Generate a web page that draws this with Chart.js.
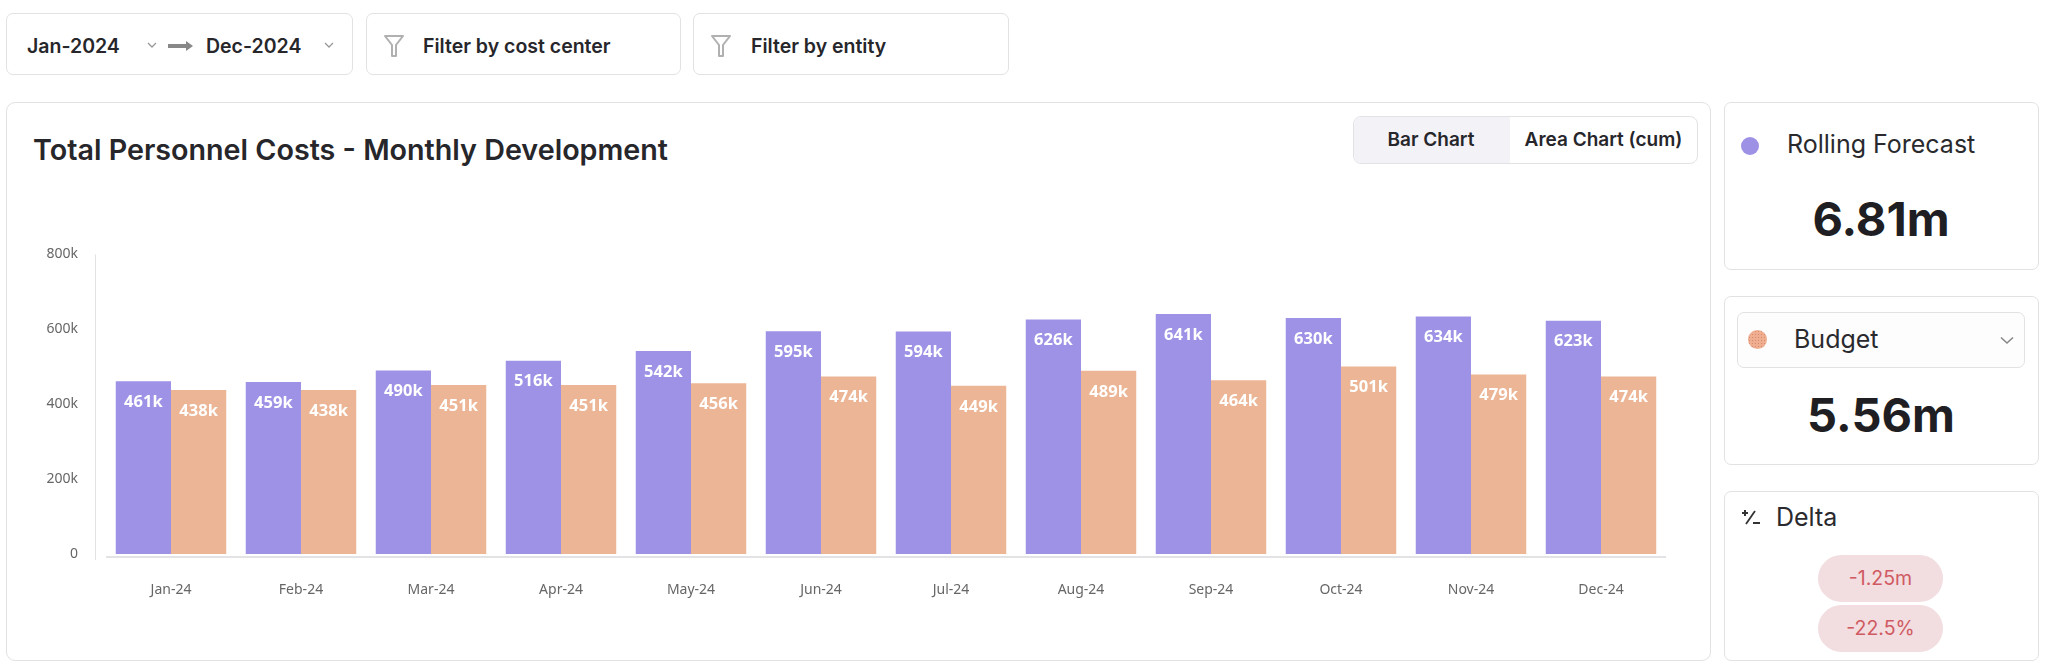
<!DOCTYPE html>
<html>
<head>
<meta charset="utf-8">
<script src="https://cdn.jsdelivr.net/npm/chart.js@4.4.1/dist/chart.umd.min.js"></script>
<style>
  body { margin: 0; background: #fff; font-family: Inter, "Noto Sans", sans-serif; color: #222; }
  .box { position: absolute; border: 1px solid #e2e2e4; border-radius: 7px; background: #fff; box-sizing: border-box; }
  .lbl { position: absolute; white-space: nowrap; }
  .filter { font-size: 19.5px; font-weight: 600; color: #26262b; }
  .big { font-size: 47px; font-weight: 700; color: #1f1f23; transform: translateX(-50%); }
  .side { font-size: 25px; color: #2a2a2e; }
  .pill { position: absolute; width: 125px; height: 47px; border-radius: 24px; background: #f2dde0;
          color: #d05a62; font-size: 19.5px; line-height: 47px; text-align: center; }
</style>
</head>
<body>
<!-- filter bar -->
<div class="box" style="left:6px;top:13px;width:347px;height:62px;"></div>
<div class="lbl filter" style="left:27px;top:34px;">Jan-2024</div>
<svg class="lbl" style="left:147px;top:41px;" width="10" height="8"><path d="M1 2 L5 6 L9 2" stroke="#999" stroke-width="1.3" fill="none"/></svg>
<svg class="lbl" style="left:167px;top:39px;" width="28" height="14"><path d="M1 7 H20" stroke="#888" stroke-width="4"/><path d="M19 2 L26 7 L19 12 Z" fill="#888"/></svg>
<div class="lbl filter" style="left:206px;top:34px;">Dec-2024</div>
<svg class="lbl" style="left:324px;top:41px;" width="10" height="8"><path d="M1 2 L5 6 L9 2" stroke="#999" stroke-width="1.3" fill="none"/></svg>

<div class="box" style="left:366px;top:13px;width:315px;height:62px;"></div>
<svg class="lbl" style="left:383px;top:34px;" width="22" height="24"><path d="M2 2 H20 L13 11 V22 H9 V11 Z" fill="none" stroke="#b0b0b0" stroke-width="2" stroke-linejoin="round"/></svg>
<div class="lbl filter" style="left:423px;top:34px;">Filter by cost center</div>

<div class="box" style="left:693px;top:13px;width:316px;height:62px;"></div>
<svg class="lbl" style="left:710px;top:34px;" width="22" height="24"><path d="M2 2 H20 L13 11 V22 H9 V11 Z" fill="none" stroke="#b0b0b0" stroke-width="2" stroke-linejoin="round"/></svg>
<div class="lbl filter" style="left:751px;top:34px;">Filter by entity</div>

<!-- chart card -->
<div class="box" style="left:6px;top:102px;width:1705px;height:559px;border-radius:9px;"></div>
<div class="lbl" style="left:33px;top:132px;font-size:28.7px;font-weight:600;color:#26262b;">Total Personnel Costs - Monthly Development</div>
<div class="box" style="left:1353px;top:116px;width:345px;height:48px;border-radius:8px;overflow:hidden;">
  <div style="position:absolute;left:0;top:0;width:156px;height:48px;background:#f3f2f7;"></div>
</div>
<div class="lbl" style="left:1353px;top:128px;width:156px;text-align:center;font-size:19px;font-weight:600;color:#26262b;">Bar Chart</div>
<div class="lbl" style="left:1509px;top:128px;width:189px;text-align:center;font-size:19px;font-weight:600;color:#26262b;">Area Chart (cum)</div>

<div style="position:absolute;left:20px;top:218px;width:1680px;height:392px;">
  <canvas id="costChart"></canvas>
</div>

<!-- side cards -->
<div class="box" style="left:1724px;top:102px;width:315px;height:168px;"></div>
<div class="lbl" style="left:1741px;top:137px;width:18px;height:18px;border-radius:50%;background:#9d91e6;"></div>
<div class="lbl side" style="left:1787px;top:129px;">Rolling Forecast</div>
<div class="lbl big" style="left:1881px;top:190px;">6.81m</div>

<div class="box" style="left:1724px;top:296px;width:315px;height:169px;"></div>
<div class="box" style="left:1737px;top:312px;width:288px;height:56px;border-radius:7px;background:#fdfdfd;"></div>
<div class="lbl" style="left:1748px;top:330px;width:19px;height:19px;border-radius:50%;background:#eeae8f radial-gradient(#d88a6e 0.8px, transparent 1px) 0 0/3px 3px;"></div>
<div class="lbl side" style="left:1794px;top:324px;">Budget</div>
<svg class="lbl" style="left:2000px;top:336px;" width="14" height="9"><path d="M1 1.5 L7 7 L13 1.5" stroke="#888" stroke-width="1.6" fill="none"/></svg>
<div class="lbl big" style="left:1881px;top:386px;">5.56m</div>

<div class="box" style="left:1724px;top:491px;width:315px;height:170px;"></div>
<svg class="lbl" style="left:1740px;top:508px;" width="22" height="20"><path d="M2 5 H8 M5 2 V8" stroke="#333" stroke-width="2"/><path d="M15 3 L6 16" stroke="#333" stroke-width="1.8"/><path d="M13 15 H20" stroke="#333" stroke-width="2"/></svg>
<div class="lbl side" style="left:1776px;top:502px;">Delta</div>
<div class="pill" style="left:1818px;top:555px;">-1.25m</div>
<div class="pill" style="left:1818px;top:605px;">-22.5%</div>

<script>
// monthly personnel costs (in k)
const months = ['Jan-24', 'Feb-24', 'Mar-24', 'Apr-24', 'May-24', 'Jun-24', 'Jul-24', 'Aug-24', 'Sep-24', 'Oct-24', 'Nov-24', 'Dec-24'];
const rollingForecast = [461, 459, 490, 516, 542, 595, 594, 626, 641, 630, 634, 623];
const budget = [438, 438, 451, 451, 456, 474, 449, 489, 464, 501, 479, 474];
const yTicks = [0, 200, 400, 600, 800];

// white value labels at the top inside each bar
const barLabels = {
    id: 'barLabels',
    afterDatasetsDraw(chart) {
        const c = chart.ctx;
        c.save();
        c.fillStyle = '#fff';
        c.font = '700 16.5px "Noto Sans"';
        c.textAlign = 'center';
        c.textBaseline = 'middle';
        chart.data.datasets.forEach((ds, i) => {
            chart.getDatasetMeta(i).data.forEach((bar, j) => {
                c.fillText(ds.data[j] + 'k', bar.x, bar.y + 21);
            });
        });
        c.restore();
    }
};

// axis lines: y line sits a bit left of the plot, x line under the bars
const axisLines = {
    id: 'axisLines',
    afterDraw(chart) {
        const a = chart.chartArea;
        const c = chart.ctx;
        c.save();
        c.strokeStyle = '#e3e3e6';
        c.lineWidth = 1;
        c.beginPath();
        c.moveTo(a.left - 10.5, a.top);
        c.lineTo(a.left - 10.5, a.bottom + 6);
        c.stroke();
        c.lineWidth = 2;
        c.beginPath();
        c.moveTo(a.left, a.bottom + 3);
        c.lineTo(a.right, a.bottom + 3);
        c.stroke();
        c.restore();
    }
};

new Chart(document.getElementById('costChart'), {
    type: 'bar',
    data: {
        labels: months,
        datasets: [
            { label: 'Rolling Forecast', data: rollingForecast, backgroundColor: '#9d92e6' },
            { label: 'Budget', data: budget, backgroundColor: '#ecb696' }
        ]
    },
    options: {
        responsive: true,
        maintainAspectRatio: false,
        animation: false,
        layout: { padding: { top: 10, right: 34, left: 0, bottom: 0 } },
        plugins: { legend: { display: false }, tooltip: { enabled: false } },
        datasets: { bar: { categoryPercentage: 0.85, barPercentage: 1 } },
        scales: {
            x: {
                grid: { display: false, drawTicks: false },
                border: { display: false },
                ticks: { padding: 28, color: '#666', font: { family: 'Noto Sans', size: 14 } },
                afterFit(scale) { scale.height = 56; }
            },
            y: {
                min: 0,
                max: 800,
                afterBuildTicks(scale) { scale.ticks = yTicks.map(v => ({ value: v })); },
                grid: { display: false, drawTicks: false },
                border: { display: false },
                ticks: {
                    padding: 28,
                    color: '#666',
                    font: { family: 'Noto Sans', size: 14 },
                    callback: v => v === 0 ? '0' : v + 'k'
                },
                afterFit(scale) { scale.width = 86; }
            }
        }
    },
    plugins: [barLabels, axisLines]
});
</script>
</body>
</html>
